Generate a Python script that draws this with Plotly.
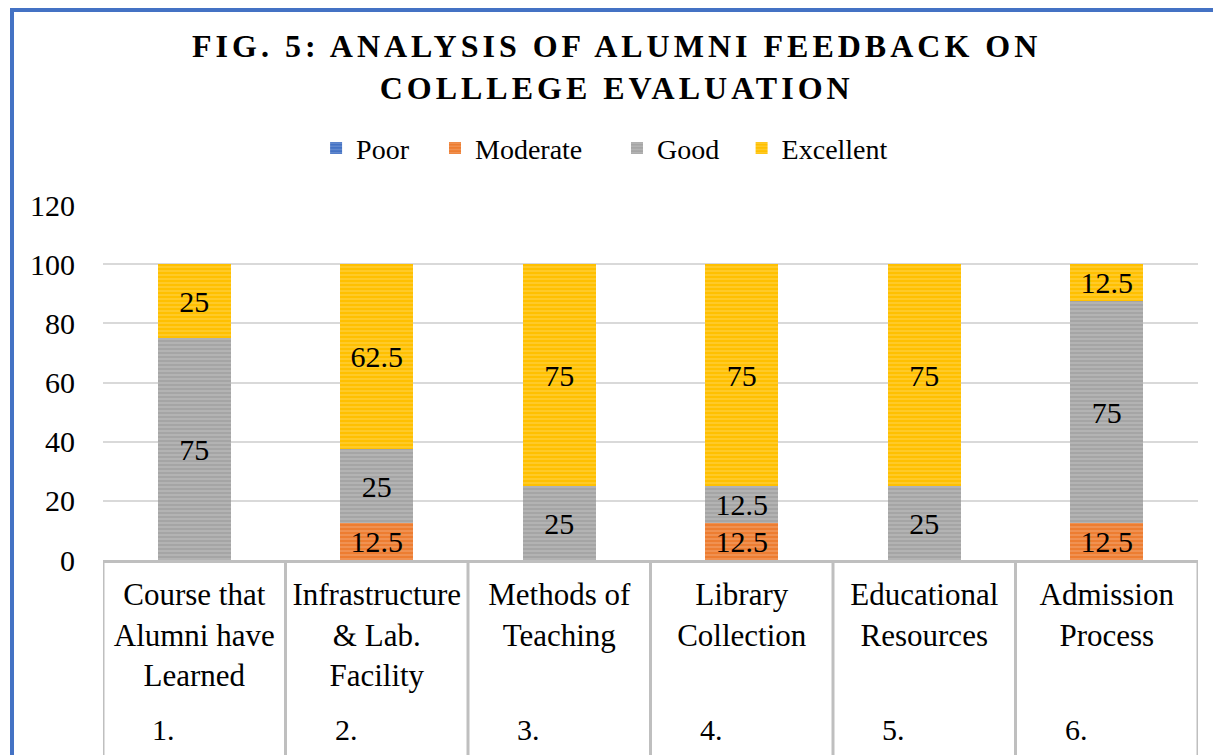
import plotly.graph_objects as go

categories = ["Course that<br>Alumni have<br>Learned",
              "Infrastructure<br>& Lab.<br>Facility",
              "Methods of<br>Teaching",
              "Library<br>Collection",
              "Educational<br>Resources",
              "Admission<br>Process"]
numbers = ["1.", "2.", "3.", "4.", "5.", "6."]

poor = [0, 0, 0, 0, 0, 0]
moderate = [0, 12.5, 0, 12.5, 0, 12.5]
good = [75, 25, 25, 12.5, 25, 75]
excellent = [25, 62.5, 75, 75, 75, 12.5]

series = [("Poor", poor, "#4472C4"),
          ("Moderate", moderate, "#ED7D31"),
          ("Good", good, "#A5A5A5"),
          ("Excellent", excellent, "#FFC000")]

FONT = "Liberation Serif, Times New Roman, serif"
GRID = "#d9d9d9"
FRAME = "#bfbfbf"

legend_ids = ["legend", "legend2", "legend3", "legend4"]
legend_x = [0.1946, 0.3032, 0.4694, 0.5832]

fig = go.Figure()
for (name, vals, col), lid in zip(series, legend_ids):
    fig.add_trace(go.Bar(
        name=name,
        x=categories,
        y=vals,
        width=0.4,
        legend=lid,
        marker=dict(color=col, line=dict(width=0),
                    pattern=dict(shape="-", size=4, solidity=0.35,
                                 fgcolor="rgba(255,255,255,0.45)", bgcolor=col, fillmode="overlay")),
        text=[("%g" % v) if v else "" for v in vals],
        textposition="inside",
        insidetextanchor="middle",
        textangle=0,
        constraintext="none",
        insidetextfont=dict(family=FONT, size=30, color="black"),
    ))

legend_style = dict(orientation="h", xanchor="left", y=1.16, yanchor="middle",
                    font=dict(family=FONT, size=28, color="black"), itemwidth=30,
                    bgcolor="rgba(0,0,0,0)")
layout_legends = {lid: dict(legend_style, x=lx) for lid, lx in zip(legend_ids, legend_x)}

fig.update_layout(
    barmode="stack",
    width=1221, height=755,
    paper_bgcolor="white", plot_bgcolor="white",
    margin=dict(l=95, r=31, t=197, b=203, autoexpand=False),
    font=dict(family=FONT, color="black"),
    showlegend=True,
    uniformtext=dict(mode=False),
    **layout_legends,
)
fig.update_yaxes(range=[0, 120], dtick=20, showgrid=True, gridcolor=GRID, gridwidth=1.5,
                 zeroline=False, showline=False, automargin=False,
                 tickfont=dict(family=FONT, size=30, color="black"), ticklabelstandoff=27)
fig.update_xaxes(showline=True, linecolor=FRAME, linewidth=3, automargin=False,
                 range=[-0.5, len(categories) - 0.5],
                 tickfont=dict(family=FONT, size=31, color="black"), ticks="",
                 ticklabelstandoff=5)

# title (letter-spaced, bold)
fig.add_annotation(
    text='<b><span style="letter-spacing:4px">FIG. 5: ANALYSIS OF ALUMNI FEEDBACK ON<br>COLLLEGE EVALUATION</span></b>',
    xref="paper", yref="paper", x=0.4685, y=1.389, xanchor="center", yanchor="middle",
    showarrow=False, font=dict(family=FONT, size=32, color="black"))

# table-like dividers below the category axis
for i in range(len(categories) + 1):
    fig.add_shape(type="line", xref="x", yref="paper", x0=i - 0.5, x1=i - 0.5, y0=0, y1=-0.7,
                  line=dict(color=FRAME, width=3))

# ordinal row under the category labels
for i, n in enumerate(numbers):
    fig.add_annotation(text=n, xref="x", yref="paper", x=i - 0.24, y=-0.478,
                       xanchor="left", yanchor="middle", showarrow=False,
                       font=dict(family=FONT, size=30, color="black"))

# blue frame around the chart area
fig.add_shape(type="rect", xref="paper", yref="paper",
              x0=-0.0831, x1=1.2, y0=-1.0, y1=1.549,
              line=dict(color="#4472C4", width=4), fillcolor="rgba(0,0,0,0)", layer="above")

fig.write_html("out.html")
